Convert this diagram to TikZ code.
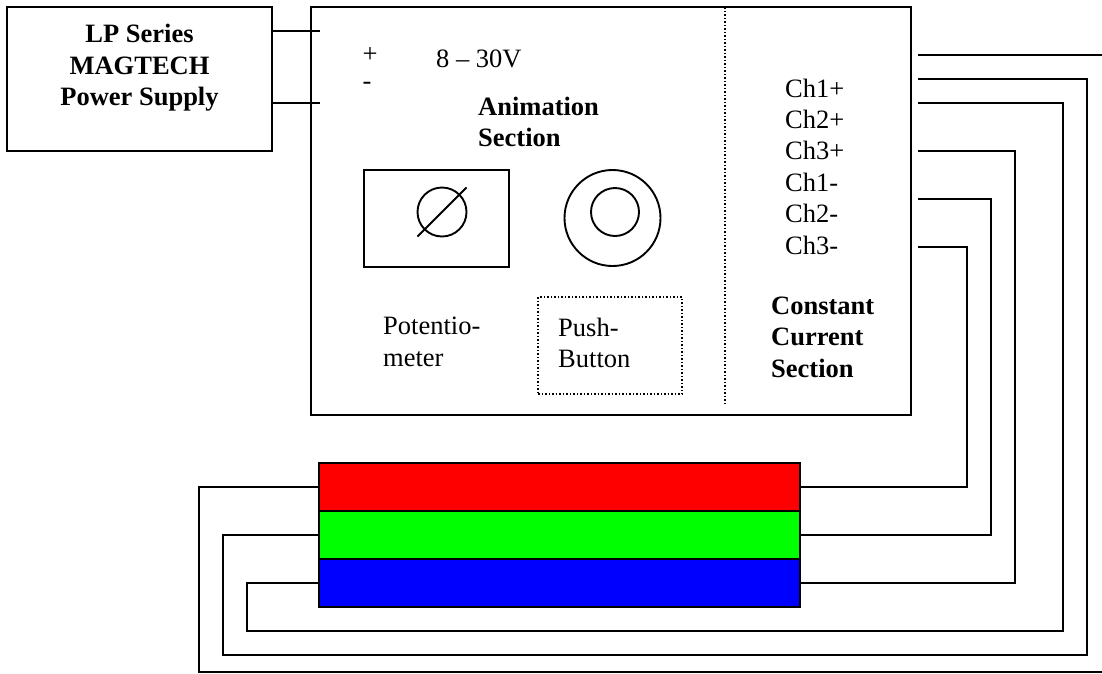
\documentclass[tikz,border=0pt]{standalone}
\usepackage{fontspec}
\setmainfont{Liberation Serif}
\usepackage{xcolor}
\usetikzlibrary{positioning}
\definecolor{ledred}{RGB}{255,0,0}
\definecolor{ledgreen}{RGB}{0,255,0}
\definecolor{ledblue}{RGB}{0,0,255}
\tikzset{
  box/.style={draw, line width=1.9pt, inner sep=0pt, outer sep=0pt},
  knob/.style={draw, circle, line width=1.9pt, inner sep=0pt, outer sep=0pt},
  ledbar/.style={box, minimum width=481pt, minimum height=48pt},
  wire/.style={line width=1.9pt},
  txt/.style={font=\fontsize{26.5}{31.4}\selectfont, align=left, inner sep=0pt, anchor=west},
  boldtxt/.style={txt, font=\fontsize{26.5}{31.4}\selectfont\bfseries}
}
\begin{document}
\begin{tikzpicture}[x=1pt,y=-1pt]
\useasboundingbox (0,0) rectangle (1102,673);

% Power supply
\node[box, minimum width=265pt, minimum height=144pt] (supply) at (139.5,79) {};
\node[boldtxt, align=center, anchor=center] (supplytxt) at (139.5,68) {LP Series\\MAGTECH\\Power Supply};

% Driver
\node[box, minimum width=600pt, minimum height=408pt] (driver) at (611,211) {};
\coordinate (plusend) at (320,31);
\coordinate (minusend) at (320,103);
\draw[wire] (supply.east |- plusend) -- (plusend);
\draw[wire] (supply.east |- minusend) -- (minusend);
\coordinate (divtop) at (725,7);
\coordinate (divbot) at (725,405);
\draw[line width=1.5pt, dotted] (divtop) -- (divbot);

% Animation section
\node[txt, anchor=center] (plus) at (370,55) {+};
\node[txt, anchor=center] (minus) at (367,86) {-};
\node[txt] (volts) at (436,59) {8 -- 30V};
\node[boldtxt] (animtxt) at (478,122) {Animation\\Section};

\node[box, minimum width=145pt, minimum height=97pt] (potbox) at (436.5,218.5) {};
\node[knob, minimum size=49pt] (potknob) at (442,212) {};
\draw[wire] (potknob.west |- potknob.south) -- (potknob.east |- potknob.north);
\node[knob, minimum size=96pt] (btnouter) at (612.5,218) {};
\node[knob, minimum size=48pt] (btninner) at (615,212) {};

\node[txt] (pottxt) at (383,342) {Potentio-\\meter};
\node[draw, dotted, line width=1.5pt, minimum width=144pt, minimum height=97pt, inner sep=0pt] (btnbox) at (610,345.5) {};
\node[txt] (btntxt) at (558,343) {Push-\\Button};

% Constant current section
\node[txt] (chtxt) at (785,166.5) {Ch1+\\Ch2+\\Ch3+\\Ch1-\\Ch2-\\Ch3-};
\node[boldtxt] (cctxt) at (771,337) {Constant\\Current\\Section};

% LED strip
\node[ledbar, fill=ledred] (redbar) at (559.5,487) {};
\node[ledbar, fill=ledgreen] (greenbar) at (559.5,535) {};
\node[ledbar, fill=ledblue] (bluebar) at (559.5,583) {};

% Outputs
\coordinate (stuba) at (918,55);
\coordinate (stubb) at (918,79);
\coordinate (stubc) at (918,103);
\coordinate (stubd) at (918,151);
\coordinate (stube) at (918,199);
\coordinate (stubf) at (918,247);
\coordinate (edgetop) at (1102,55);
\coordinate (edgebot) at (1102,672);
\coordinate (leftred) at (199,672);
\coordinate (rightgreen) at (1087,655);
\coordinate (leftgreen) at (223,655);
\coordinate (rightblue) at (1063,631);
\coordinate (leftblue) at (247,631);
\coordinate (railblue) at (1015,583);
\coordinate (railgreen) at (991,535);
\coordinate (railred) at (967,487);

\draw[wire] (stuba) -- (edgetop);
\draw[wire] (edgebot) -- (leftred) |- (redbar.west);
\draw[wire] (stubb) -| (rightgreen) -- (leftgreen) |- (greenbar.west);
\draw[wire] (stubc) -| (rightblue) -- (leftblue) |- (bluebar.west);
\draw[wire] (stubd) -| (railblue) -- (bluebar.east);
\draw[wire] (stube) -| (railgreen) -- (greenbar.east);
\draw[wire] (stubf) -| (railred) -- (redbar.east);
\end{tikzpicture}
\end{document}
